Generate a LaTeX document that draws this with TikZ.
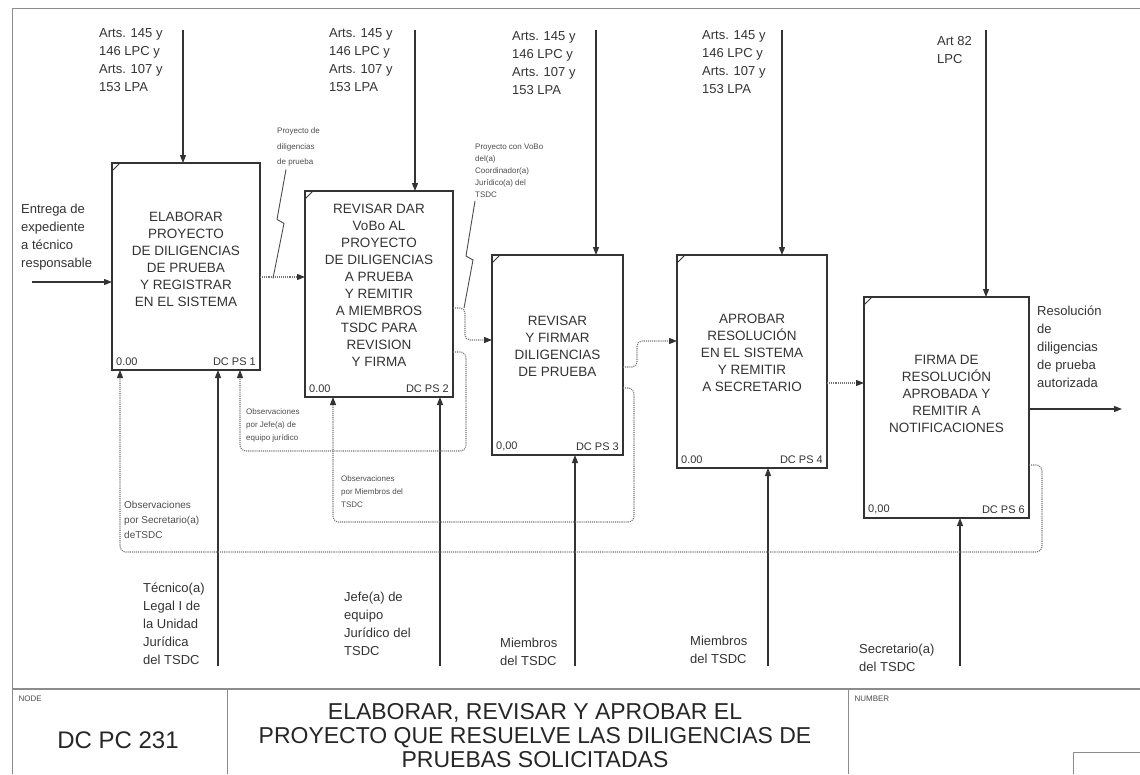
\documentclass[tikz,border=0pt]{standalone}
\usepackage{fontspec}
\setmainfont{Liberation Sans}
\usetikzlibrary{arrows.meta,calc,positioning}

\begin{document}
\begin{tikzpicture}[x=1pt,y=-1pt,
  act/.style={draw=black!80,line width=2.2pt,inner sep=0pt,outer sep=0pt},
  acttxt/.style={font=\fontsize{13.5}{17}\selectfont,align=center,text=black!80},
  tag/.style={font=\fontsize{11}{12}\selectfont,text=black!80,inner sep=4pt},
  lbl/.style={font=\fontsize{13}{18}\selectfont,align=left,text=black!80,inner sep=0pt,anchor=west},
  note/.style={font=\fontsize{8}{13}\selectfont,align=left,text=black!70,inner sep=0pt,anchor=west},
  ctl/.style={draw=black!80,line width=1.1pt,-{Triangle[length=8pt,width=6pt]}},
  flow/.style={draw=black!55,line width=1.1pt,densely dotted,rounded corners=5pt,-{Triangle[length=8pt,width=6pt,color=black!80]}},
  fb/.style={draw=black!55,line width=1.1pt,densely dotted,rounded corners=6pt,-{Triangle[length=8pt,width=6pt,color=black!80]}},
  lead/.style={draw=black!70,line width=0.9pt},
  frame/.style={draw=black!45,line width=1pt}
]
\useasboundingbox (0,0) rectangle (1140,774);

% frame and title block
\draw[frame] (12,8) -- (1140,8);
\draw[frame] (12,8) -- (12,774);
\draw[frame,line width=2pt] (12,689) -- (1140,689);
\draw[frame] (227,689) -- (227,774);
\draw[frame] (848,689) -- (848,774);
\draw[frame] (1073,774) |- (1140,752);
\node[font=\fontsize{8}{9}\selectfont,text=black!70,anchor=north west] (nodetag) at (15,692) {NODE};
\node[font=\fontsize{24}{26}\selectfont,text=black!85] (nodeid) at (118,740) {DC PC 231};
\node[font=\fontsize{23}{24}\selectfont,align=center,text=black!85] (title) at (535,736)
  {ELABORAR, REVISAR Y APROBAR EL\\PROYECTO QUE RESUELVE LAS DILIGENCIAS DE\\PRUEBAS SOLICITADAS};
\node[font=\fontsize{8}{9}\selectfont,text=black!70,anchor=north west] (numtag) at (851,692) {NUMBER};

% activities
\node[act,minimum width=148pt,minimum height=207pt] (b1) at (186,266.5) {};
\node[act,minimum width=148pt,minimum height=206pt] (b2) at (379,294) {};
\node[act,minimum width=131pt,minimum height=200pt] (b3) at (557.5,355) {};
\node[act,minimum width=150pt,minimum height=213pt] (b4) at (752,361.5) {};
\node[act,minimum width=165pt,minimum height=221pt] (b5) at (946.5,407.5) {};

\node[acttxt] (t1) at ([yshift=7.5pt]b1.center) {ELABORAR\\PROYECTO\\DE DILIGENCIAS\\DE PRUEBA\\Y REGISTRAR\\EN EL SISTEMA};
\node[acttxt] (t2) at ([yshift=8.5pt]b2.center) {REVISAR DAR\\VoBo AL\\PROYECTO\\DE DILIGENCIAS\\A PRUEBA\\Y REMITIR\\A MIEMBROS\\TSDC PARA\\REVISION\\Y FIRMA};
\node[acttxt] (t3) at ([yshift=9pt]b3.center) {REVISAR\\Y FIRMAR\\DILIGENCIAS\\DE PRUEBA};
\node[acttxt] (t4) at ([yshift=9pt]b4.center) {APROBAR\\RESOLUCIÓN\\EN EL SISTEMA\\Y REMITIR\\A SECRETARIO};
\node[acttxt] (t5) at ([yshift=13.5pt]b5.center) {FIRMA DE\\RESOLUCIÓN\\APROBADA Y\\REMITIR A\\NOTIFICACIONES};

\foreach \b/\n/\z in {b1/1/{0.00}, b2/2/{0.00}, b3/3/{0,00}, b4/4/{0.00}, b5/6/{0,00}} {
  \node[tag,anchor=south west] (\b-id) at (\b.south west) {\z};
  \node[tag,anchor=south east] (\b-ps) at (\b.south east) {DC PS \n};
  \draw[black!80,line width=1pt] ([yshift=-8pt]\b.north west) -- ([xshift=8pt]\b.north west);
}

% controls and mechanisms
\foreach \c/\b/\x in {c1/b1/183, c2/b2/415, c3/b3/596, c4/b4/782, c5/b5/986} {
  \coordinate (\c) at (\x,30);
  \draw[ctl] (\c) -- (\c |- \b.north);
}
\foreach \m/\b/\x in {m1/b1/218, m2/b2/440, m3/b3/575, m4/b4/768, m5/b5/960} {
  \coordinate (\m) at (\x,666);
  \draw[ctl] (\m) -- (\m |- \b.south);
}
\node[lbl] (c1t) at (99,60) {Arts. 145 y\\146 LPC y\\Arts. 107 y\\153 LPA};
\node[lbl] (c2t) at (329,60) {Arts. 145 y\\146 LPC y\\Arts. 107 y\\153 LPA};
\node[lbl] (c3t) at (512,63) {Arts. 145 y\\146 LPC y\\Arts. 107 y\\153 LPA};
\node[lbl] (c4t) at (702,62) {Arts. 145 y\\146 LPC y\\Arts. 107 y\\153 LPA};
\node[lbl] (c5t) at (937,50) {Art 82\\LPC};

\node[lbl] (m1t) at (143,624) {Técnico(a)\\Legal I de\\la Unidad\\Jurídica\\del TSDC};
\node[lbl] (m2t) at (344,624) {Jefe(a) de\\equipo\\Jurídico del\\TSDC};
\node[lbl] (m3t) at (500,652) {Miembros\\del TSDC};
\node[lbl] (m4t) at (690,650) {Miembros\\del TSDC};
\node[lbl] (m5t) at (859,658) {Secretario(a)\\del TSDC};

% input and output
\coordinate (in1) at (32,282);
\draw[ctl] (in1) -- (in1 -| b1.west);
\node[lbl] (in1t) at (21,237) {Entrega de\\expediente\\a técnico\\responsable};
\coordinate (out1) at (1122,409);
\draw[ctl] (b5.east |- out1) -- (out1);
\node[lbl] (out1t) at (1037,347) {Resolución\\de\\diligencias\\de prueba\\autorizada};

% flows between activities
\coordinate (b2i) at ([yshift=17pt]b2.west);
\coordinate (b3i) at ([yshift=15pt]b3.west);
\coordinate (b4i) at ([yshift=20.5pt]b4.west);
\coordinate (b5i) at ([yshift=24.5pt]b5.west);
\coordinate (b2o) at ([yshift=-14pt]b2.east);
\coordinate (b3o) at ([yshift=-12pt]b3.east);
\draw[flow] (b1.east |- b2i) -- (b2i);
\draw[flow] (b2o) -- ++(12,0) |- (b3i);
\draw[flow] (b3o) -- ++(14,0) |- (b4i);
\draw[flow] (b4.east |- b5i) -- (b5i);

\node[note,font=\fontsize{8}{15.5}\selectfont] (l12) at (277,147) {Proyecto de\\diligencias\\de prueba};
\draw[lead] ([xshift=9pt,yshift=-3pt]l12.south west) -- ++(-9,50) -- ++(7,4) -- ++(-11,55);
\node[note,font=\fontsize{8}{12}\selectfont] (l23) at (475,171) {Proyecto con VoBo\\del(a)\\Coordinador(a)\\Jurídico(a) del\\TSDC};
\draw[lead] ([yshift=-3pt]l23.south west) -- ++(-9,55) -- ++(7,4) -- ++(-9,48);

% feedback
\coordinate (f1s) at ([yshift=-58pt]b2.east);
\coordinate (f1e) at ([xshift=54pt]b1.south);
\coordinate (f1k) at (240,451);
\draw[fb] (f1s) -- ++(13,0) |- (f1k) -- (f1e);
\node[note] (f1t) at (246,425) {Observaciones\\por Jefe(a) de\\equipo jurídico};

\coordinate (f2s) at ([yshift=-33pt]b3.east);
\coordinate (f2e) at ([xshift=-46pt]b2.south);
\coordinate (f2k) at (333,522);
\draw[fb] (f2s) -- ++(11,0) |- (f2k) -- (f2e);
\node[note] (f2t) at (341,492) {Observaciones\\por Miembros del\\TSDC};

\coordinate (f3s) at ([yshift=-57.5pt]b5.east);
\coordinate (f3e) at ([xshift=-66pt]b1.south);
\coordinate (f3k) at (120,552);
\draw[fb] (f3s) -- ++(13,0) |- (f3k) -- (f3e);
\node[note,font=\fontsize{10}{15}\selectfont] (f3t) at (124,520) {Observaciones\\por Secretario(a)\\deTSDC};
\end{tikzpicture}
\end{document}
